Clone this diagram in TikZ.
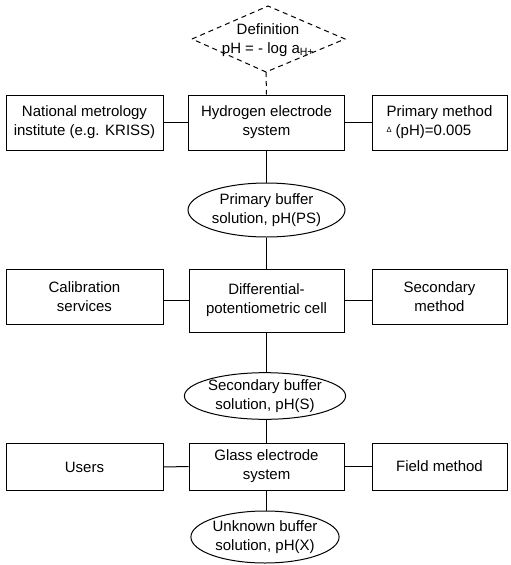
\documentclass[tikz,border=0pt]{standalone}
\usepackage{fontspec}
\setmainfont{Liberation Sans}
\usetikzlibrary{shapes.geometric}
\tikzset{
  every node/.style={font=\fontsize{15}{19}\selectfont, inner sep=0pt},
  box/.style={draw, line width=1pt, rectangle, align=center},
  oval/.style={draw, line width=1pt, ellipse, align=center},
  link/.style={line width=1pt},
  dlink/.style={line width=1pt, dash pattern=on 5pt off 4pt}
}
\begin{document}
\begin{tikzpicture}[x=1pt,y=-1pt]
\useasboundingbox (0,0) rectangle (511,565);
% definition diamond
\draw[dlink] (192,39) -- (268,6) -- (345,39) -- (266,72) -- cycle;
\node (def) at (268,40) [align=center] {Definition\\pH = - log a\textsubscript{H+}};
\coordinate (defbot) at (266,72);
% row 1
\node[box, minimum width=157, minimum height=55] (l1) at (84.5,122.5) {National metrology\\institute (e.g. KRISS)};
\node[box, minimum width=156, minimum height=55] (h) at (266.5,122.5) {Hydrogen electrode\\system};
\node[box, minimum width=135, minimum height=55] (r1) at (439.5,122.5) {\begin{tabular}{@{}l@{}}Primary method\\\raisebox{.45ex}{\scalebox{.5}{Δ}} (pH)=0.005\end{tabular}};
% ellipse 1
\node[oval, minimum width=157, minimum height=54] (e1) at (266.5,210) {Primary buffer\\solution, pH(PS)};
% row 2
\node[box, minimum width=157, minimum height=55] (l2) at (84.5,296.5) {Calibration\\services};
\node[box, minimum width=155, minimum height=63] (c2) at (266.5,300.5) {Differential-\\potentiometric cell};
\node[box, minimum width=135, minimum height=55] (r2) at (439.5,296.5) {Secondary\\method};
% ellipse 2
\node[oval, minimum width=151, minimum height=46] (e2) at (265,396) {Secondary buffer\\solution, pH(S)};
% row 3
\node[box, minimum width=157, minimum height=47] (l3) at (84.5,467) {Users};
\node[box, minimum width=155, minimum height=47] (g) at (266.5,466.5) {Glass electrode\\system};
\node[box, minimum width=135, minimum height=47] (r3) at (439.5,466.5) {Field method};
% ellipse 3
\node[oval, minimum width=148, minimum height=52] (e3) at (265,537) {Unknown buffer\\solution, pH(X)};
% connectors
\draw[dlink] (defbot) -- (h.north);
\draw[link] (l1.east) -- (h.west);
\draw[link] (h.east) -- (r1.west);
\draw[link] (h.south) -- (e1.north);
\draw[link] (e1.south) -- (c2.north);
\draw[link] (c2.west) -- (c2.west -| l2.east);
\draw[link] (c2.east) -- (c2.east -| r2.west);
\draw[link] (c2.south) -- (c2.south |- e2.north);
\draw[link] (e2.south -| g.north) -- (g.north);
\draw[link] (l3.east) -- (g.west);
\draw[link] (g.east) -- (r3.west);
\draw[link] (g.south) -- (g.south |- e3.north);
\end{tikzpicture}
\end{document}
